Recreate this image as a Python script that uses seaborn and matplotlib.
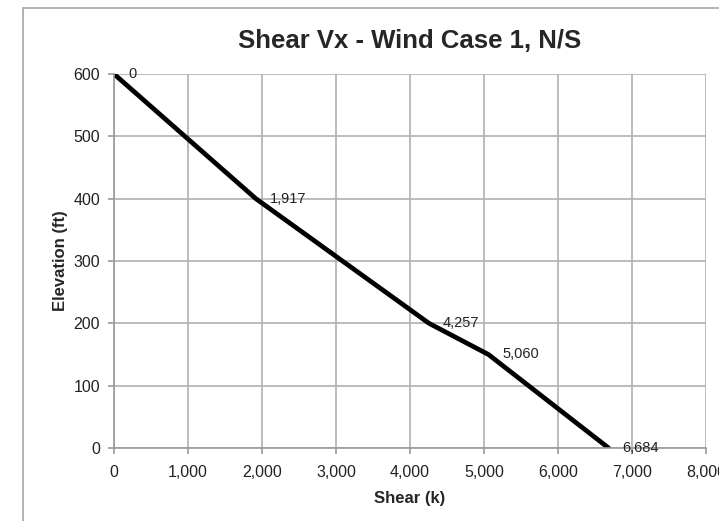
import matplotlib
matplotlib.use("Agg")
import matplotlib.pyplot as plt
import seaborn as sns
from matplotlib.patches import Rectangle
from matplotlib.ticker import FuncFormatter

# 데이터
shear = [0, 1917, 4257, 5060, 6684]
elevation = [600, 400, 200, 150, 0]
point_labels = ["0", "1,917", "4,257", "5,060", "6,684"]
x_ticks = [0, 1000, 2000, 3000, 4000, 5000, 6000, 7000, 8000]
y_ticks = [0, 100, 200, 300, 400, 500, 600]

sns.set_theme(style="white")
plt.rcParams['font.family'] = ['Liberation Sans', 'DejaVu Sans']

fig = plt.figure(figsize=(7.19, 5.21), dpi=100)
ax = fig.add_axes([114 / 719, 1 - 448 / 521, (706 - 114) / 719, (448 - 74) / 521])

# 차트 바깥 테두리
fig.patches.append(Rectangle((23 / 719, -0.1), 1.2, 1 - 8 / 521 + 0.1,
                             transform=fig.transFigure, fill=False,
                             edgecolor="#a6a6a6", linewidth=1.2, zorder=0))

sns.lineplot(x=shear, y=elevation, sort=False, color="black", linewidth=3.4, ax=ax)

for x, y, t in zip(shear, elevation, point_labels):
    ax.annotate(t, (x, y), xytext=(10, 0), textcoords="offset points",
                va="center", ha="left", fontsize=10.5, color="#222222")

ax.set_xlim(0, 8000)
ax.set_ylim(0, 600)
ax.set_xticks(x_ticks)
ax.set_yticks(y_ticks)
ax.xaxis.set_major_formatter(FuncFormatter(lambda v, p: f"{int(v):,}"))
ax.grid(True, color="#b0b0b0", linewidth=1.2)
ax.set_axisbelow(True)
for s in ["top", "right"]:
    ax.spines[s].set_visible(False)
for s in ["left", "bottom"]:
    ax.spines[s].set_color("#999999")
    ax.spines[s].set_linewidth(1.2)
ax.tick_params(axis="both", which="both", direction="out", length=4, width=1.2,
               color="#999999", labelsize=11.5, labelcolor="#222222")
ax.tick_params(axis="x", pad=8, bottom=True)
ax.tick_params(axis="y", pad=6, left=True)

ax.set_xlabel("Shear (k)", fontsize=12, fontweight="bold", labelpad=8)
ax.set_ylabel("Elevation (ft)", fontsize=12, fontweight="bold", labelpad=4)
ax.set_title("Shear Vx - Wind Case 1, N/S", fontsize=18.5, fontweight="bold", pad=19)

fig.savefig("out.png", dpi=100)
